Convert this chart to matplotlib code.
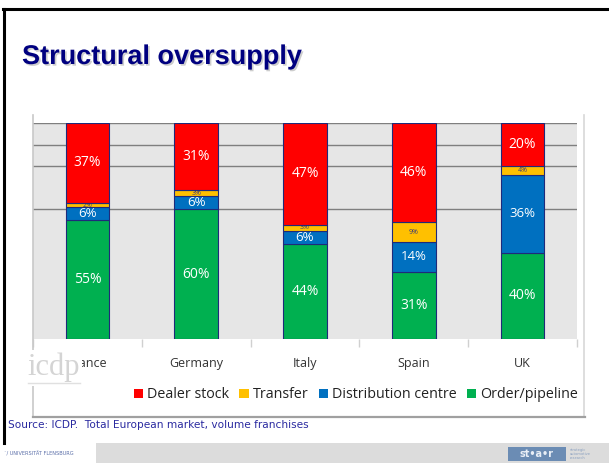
import numpy as np
import matplotlib.pyplot as plt
import matplotlib.patheffects as pe
from matplotlib.patches import Rectangle, Patch
from matplotlib.lines import Line2D

# Dados: participação (%) de cada etapa no estoque total
paises = ['France', 'Germany', 'Italy', 'Spain', 'UK']
order_pipeline = [55, 60, 44, 31, 40]
distribution_centre = [6, 6, 6, 14, 36]
transfer = [2, 3, 3, 9, 4]
dealer_stock = [37, 31, 47, 46, 20]
linhas_grade = [60, 80, 90, 100]

cores = {
    'Dealer stock': '#ff0000',
    'Transfer': '#ffc000',
    'Distribution centre': '#0070c0',
    'Order/pipeline': '#00b050',
}

W, H = 609, 463
fig = plt.figure(figsize=(W / 100, H / 100), dpi=100)


def fx(x):
    return x / W


def fy(y):
    return 1 - y / H


# Moldura do slide e rodapé
fig.add_artist(Line2D([fx(3), fx(609)], [fy(9), fy(9)], color='black', lw=2.2))
fig.add_artist(Line2D([fx(4), fx(4)], [fy(9), fy(443)], color='black', lw=2.2))
fig.add_artist(Rectangle((0, 0), 1, fy(443), transform=fig.transFigure,
                         facecolor='#dcdcdc', edgecolor='none'))
fig.add_artist(Rectangle((0, 0), fx(96), fy(443), transform=fig.transFigure,
                         facecolor='white', edgecolor='none'))
fig.text(fx(4), fy(454), '\u02dc/ UNIVERSITÄT FLENSBURG', fontsize=3.6,
         color='#5a6ea8', va='center', ha='left')
fig.add_artist(Rectangle((fx(508), fy(461)), fx(58), fy(447) - fy(461),
                         transform=fig.transFigure, facecolor='#6b8cb4',
                         edgecolor='none'))
fig.text(fx(537), fy(454), 'st\u2022a\u2022r', fontsize=7, color='#e8eef6',
         va='center', ha='center', fontweight='bold')
fig.text(fx(570), fy(454), 'strategic\nautomotive\nresearch', fontsize=2.6,
         color='#8aa0c0', va='center', ha='left', linespacing=1.1)

# Título com sombra leve
fig.text(fx(22), fy(64), 'Structural oversupply', fontsize=19.5,
         fontweight='bold', family='Liberation Sans', color='#000080',
         path_effects=[pe.withSimplePatchShadow(offset=(1.2, -1.2),
                                                shadow_rgbFace='#909090',
                                                alpha=0.45)])

# Caixa do gráfico
fig.add_artist(Line2D([fx(33), fx(33)], [fy(115), fy(417)], color='#c8c8c8', lw=1.2))
fig.add_artist(Line2D([fx(584), fx(584)], [fy(115), fy(417)], color='#d8d8d8', lw=1.2))
fig.add_artist(Line2D([fx(33), fx(585)], [fy(417), fy(417)], color='#a0a0a0', lw=1.6))

ax = fig.add_axes([fx(33), fy(339), fx(577) - fx(33), fy(123) - fy(339)])
ax.set_facecolor('#e6e6e6')
x = np.arange(len(paises))
largura = 0.4

series = [
    ('Order/pipeline', order_pipeline),
    ('Distribution centre', distribution_centre),
    ('Transfer', transfer),
    ('Dealer stock', dealer_stock),
]
base = np.zeros(len(paises))
for nome, valores in series:
    barras = ax.bar(x, valores, largura, bottom=base, color=cores[nome],
                    edgecolor='#1f2a7a', linewidth=0.8, zorder=3)
    if nome == 'Transfer':
        ax.bar_label(barras, labels=[f'{v}%' for v in valores], label_type='center',
                     fontsize=5, color='#3a3a78', family='Open Sans')
    elif nome == 'Distribution centre':
        ax.bar_label(barras, labels=[f'{v}%' for v in valores], label_type='center',
                     fontsize=9.5, color='white', family='Open Sans')
    else:
        ax.bar_label(barras, labels=[f'{v}%' for v in valores], label_type='center',
                     fontsize=10, color='white', family='Open Sans')
    base += np.array(valores)

for g in linhas_grade:
    ax.axhline(g, color='#7f7f7f', lw=1, zorder=1)

ax.set_ylim(0, 100)
ax.set_xlim(-0.5, len(paises) - 0.5)
ax.set_yticks([])
for lado in ax.spines.values():
    lado.set_visible(False)
ax.set_xticks(x)
ax.set_xticklabels(paises, fontsize=9, color='#333333', family='Open Sans')
ax.tick_params(axis='x', which='major', length=0, pad=13)
ax.set_xticks(np.arange(-0.5, len(paises)), minor=True)
ax.tick_params(axis='x', which='minor', length=6, color='#d0d0d0', width=1)

# Logotipo icdp sobre o canto inferior esquerdo
fig.add_artist(Rectangle((fx(26), fy(386)), fx(56), fy(350) - fy(386),
                         transform=fig.transFigure, facecolor='white',
                         edgecolor='none', zorder=5))
fig.text(fx(27), fy(375), 'icdp', fontsize=22, family='Liberation Serif',
         color='#d4d4d4', zorder=6)
fig.add_artist(Line2D([fx(28), fx(80)], [fy(383), fy(383)], color='#e0e0e0',
                      lw=1, zorder=6))

# Legenda
ordem = ['Dealer stock', 'Transfer', 'Distribution centre', 'Order/pipeline']
handles = [Patch(facecolor=cores[n], edgecolor='none') for n in ordem]
fig.legend(handles, ordem, loc='center', bbox_to_anchor=(fx(356), fy(395)),
           ncol=4, frameon=False, handlelength=0.65, handleheight=0.65,
           handletextpad=0.3, columnspacing=0.7, borderaxespad=0,
           prop={'family': 'Open Sans', 'size': 10.3}, labelcolor='#222222')

fig.text(fx(8), fy(425), 'Source: ICDP.  Total European market, volume franchises',
         fontsize=7.6, color='#2a2aa0', va='center', ha='left')

fig.savefig('out.png', dpi=100)
